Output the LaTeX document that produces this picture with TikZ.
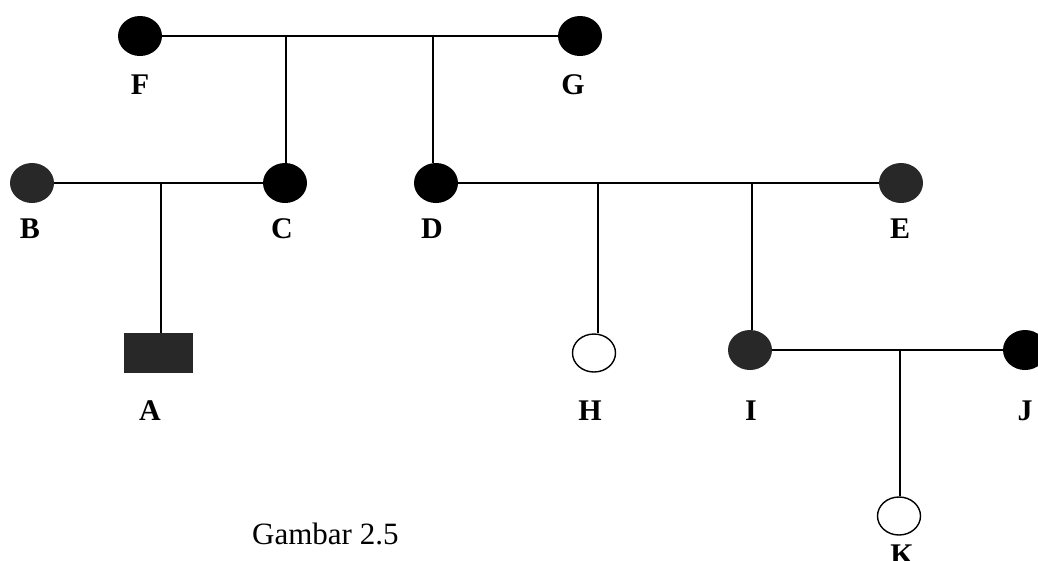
\documentclass[tikz,border=0pt]{standalone}
\usepackage{fontspec}
\setmainfont{Liberation Serif}
\usetikzlibrary{shapes.geometric}
\definecolor{fillA}{HTML}{282828}
\tikzset{
  person/.style={ellipse, inner sep=0pt, minimum width=44pt, minimum height=40pt},
  blackp/.style={person, fill=black},
  greyp/.style={person, fill=fillA},
  openp/.style={person, draw=black, line width=1.4pt, fill=white, minimum width=43pt, minimum height=38pt},
  malep/.style={rectangle, inner sep=0pt, minimum width=69pt, minimum height=40pt, fill=fillA},
  lbl/.style={anchor=base, inner sep=0pt, font=\fontsize{30}{36}\selectfont\bfseries},
  link/.style={line width=1.6pt, black},
}
\begin{document}
\begin{tikzpicture}[x=1pt, y=-1pt]
\useasboundingbox (0,0) rectangle (1038,560);
\clip (0,0) rectangle (1038,560);
% persons
\node[blackp] (F) at (140,36) {};
\node[blackp] (G) at (580,36) {};
\node[greyp]  (B) at (32,183) {};
\node[blackp] (C) at (285,183) {};
\node[blackp] (D) at (436,183) {};
\node[greyp]  (E) at (901,183) {};
\node[malep]  (A) at (158,353) {};
\node[openp]  (H) at (594,353) {};
\node[greyp]  (I) at (750,350) {};
\node[blackp] (J) at (1025,350) {};
\node[openp]  (K) at (899,516) {};
% junction points
\coordinate (fg1) at (286,36);
\coordinate (fg2) at (433,36);
\coordinate (bc)  at (161,183);
\coordinate (de1) at (598,183);
\coordinate (de2) at (752,183);
\coordinate (ij)  at (900,350);
% connectors
\draw[link] (F) -- (G);
\draw[link] (fg1) -- (fg1 |- C.north);
\draw[link] (fg2) -- (fg2 |- D.north);
\draw[link] (B) -- (C);
\draw[link] (bc) -- (bc |- A.north);
\draw[link] (D) -- (E);
\draw[link] (de1) -- (de1 |- H.north);
\draw[link] (de2) -- (de2 |- I.north);
\draw[link] (I) -- (J);
\draw[link] (ij) -- (ij |- K.north);
% labels
\node[lbl] (lF) at (140,94) {F};
\node[lbl] (lG) at (573,94) {G};
\node[lbl] (lB) at (30,238) {B};
\node[lbl] (lC) at (282,238) {C};
\node[lbl] (lD) at (432,238) {D};
\node[lbl] (lE) at (900,238) {E};
\node[lbl] (lA) at (150,420) {A};
\node[lbl] (lH) at (590,420) {H};
\node[lbl] (lI) at (751,420) {I};
\node[lbl] (lJ) at (1025,420) {J};
\node[lbl] (lK) at (902,564) {K};
\node[anchor=base west, inner sep=0pt, font=\fontsize{31}{37}\selectfont] (cap) at (252,544) {Gambar 2.5};
\end{tikzpicture}
\end{document}
